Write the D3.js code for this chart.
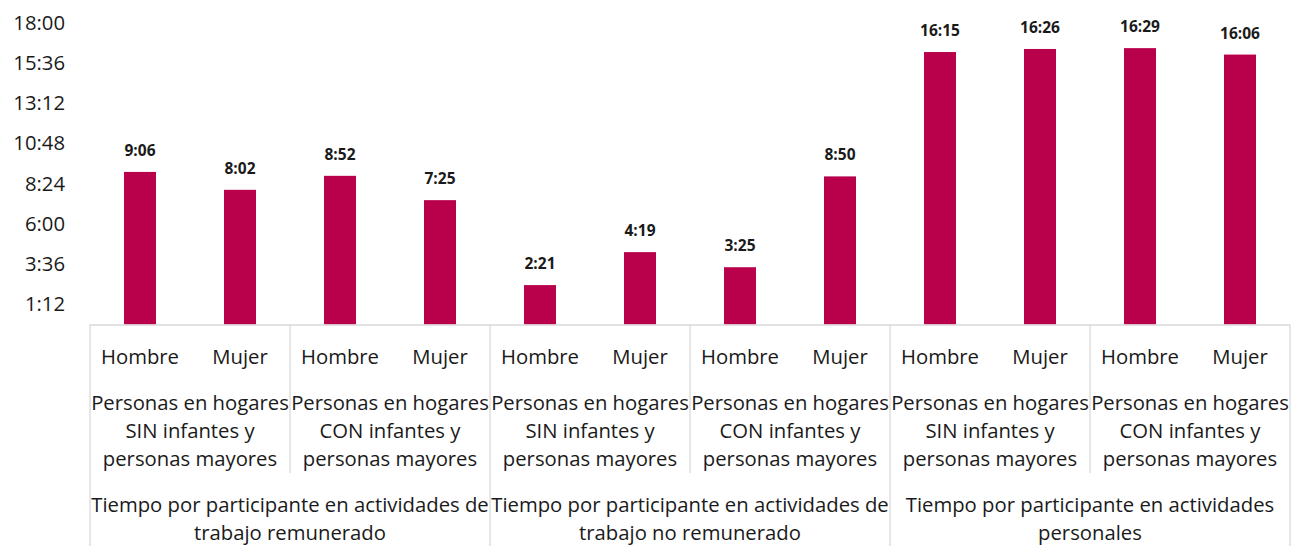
<!DOCTYPE html>
<html><head><meta charset="utf-8">
<script src="https://cdn.jsdelivr.net/npm/d3@7"></script>
<style>body{margin:0;background:#fff;} svg{display:block;font-family:"Open Sans","Noto Sans",sans-serif;}</style>
</head><body>
<svg id="c" width="1298" height="546"></svg>
<script>
const genders = ["Hombre","Mujer"];
const households = [
  ["Personas en hogares","SIN infantes y","personas mayores"],
  ["Personas en hogares","CON infantes y","personas mayores"]
];
const activities = [
  ["Tiempo por participante en actividades de","trabajo remunerado"],
  ["Tiempo por participante en actividades de","trabajo no remunerado"],
  ["Tiempo por participante en actividades","personales"]
];
const valueLabels = ["9:06","8:02","8:52","7:25","2:21","4:19","3:25","8:50","16:15","16:26","16:29","16:06"];
const tickLabels = ["1:12","3:36","6:00","8:24","10:48","13:12","15:36","18:00"];

(function(){
const toMin = s => { const [h,m] = s.split(":").map(Number); return h*60+m; };
const values = valueLabels.map(toMin);
const ticks = tickLabels.map(toMin);

const svg = d3.select("#c");
const left = 90, right = 1290, base = 324.5, plotTop = 22.7;
const x = d3.scaleBand().domain(d3.range(values.length)).range([left,right]).paddingInner(0.68).paddingOuter(0.34);
const y = d3.scaleLinear().domain([0,1080]).range([base, plotTop]);
const step = x.step();
const color = "#B8004B";
const lineColor = "#d9d9d9";
const txt = "#1a1a1a";
const fs = 20.3;

const yAxis = d3.axisLeft(y).tickValues(ticks).tickFormat((d,i)=>tickLabels[i]).tickSize(0).tickPadding(0);
const ga = svg.append("g").attr("transform","translate(65,0)").call(yAxis);
ga.select(".domain").remove();
ga.selectAll("text").attr("font-size",fs).attr("fill",txt).attr("font-family","'Open Sans','Noto Sans',sans-serif");

svg.append("g").selectAll("rect").data(values).join("rect")
  .attr("x",(d,i)=>x(i)).attr("width",x.bandwidth())
  .attr("y",d=>y(d)).attr("height",d=>base-y(d)).attr("fill",color);

svg.append("g").selectAll("text").data(values).join("text")
  .attr("x",(d,i)=>x(i)+x.bandwidth()/2).attr("y",d=>y(d)-16)
  .attr("text-anchor","middle").attr("font-size",15.5).attr("font-weight","bold").attr("fill",txt)
  .text((d,i)=>valueLabels[i]);

const g = svg.append("g").attr("stroke",lineColor).attr("stroke-width",1.3).attr("fill","none");
g.append("line").attr("x1",left).attr("x2",right).attr("y1",base+0.5).attr("y2",base+0.5);
const nAct = activities.length, nHouse = households.length, nG = genders.length;
for (let k=0;k<=nAct*nHouse;k++){
  const xx = left + k*nG*step;
  const outer = k % nHouse === 0;
  g.append("line").attr("x1",xx).attr("x2",xx).attr("y1",base).attr("y2",outer?546:473);
}

const lab = svg.append("g").attr("fill",txt).attr("font-size",fs).attr("text-anchor","middle");
values.forEach((d,i)=>{
  lab.append("text").attr("x",x(i)+x.bandwidth()/2).attr("y",364).text(genders[i%nG]);
});
for (let k=0;k<nAct*nHouse;k++){
  const cx = left + (k+0.5)*nG*step;
  households[k%nHouse].forEach((line,j)=>{
    lab.append("text").attr("x",cx).attr("y",410+j*28).text(line);
  });
}
activities.forEach((lines,k)=>{
  const cx = left + (k+0.5)*nHouse*nG*step;
  lines.forEach((line,j)=>{
    lab.append("text").attr("x",cx).attr("y",512+j*28).text(line);
  });
});
})();
</script>
</body></html>
